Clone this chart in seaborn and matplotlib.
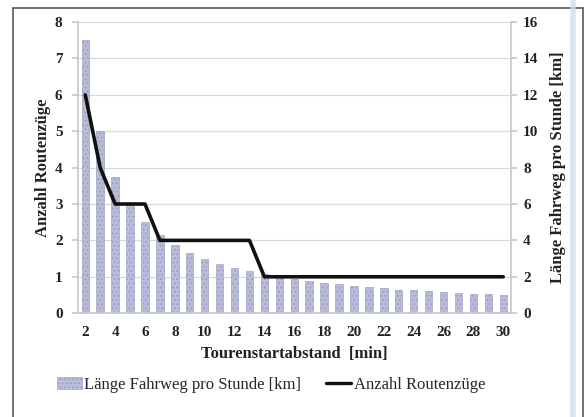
import numpy as np
import pandas as pd
import matplotlib
matplotlib.use("Agg")
import matplotlib.pyplot as plt
from matplotlib.lines import Line2D
from matplotlib.patches import Patch
import seaborn as sns

# Data
minutes = [2, 3, 4, 5, 6, 7, 8, 9, 10, 11, 12, 13, 14, 15, 16,
           17, 18, 19, 20, 21, 22, 23, 24, 25, 26, 27, 28, 29, 30]
km_per_hour = [15.0, 10.0, 7.5, 6.0, 5.0, 4.29, 3.75, 3.33, 3.0, 2.73, 2.5, 2.31, 2.14, 2.0, 1.88,
               1.76, 1.67, 1.58, 1.5, 1.43, 1.36, 1.3, 1.25, 1.2, 1.15, 1.11, 1.07, 1.03, 1.0]
route_trains = [6, 4, 3, 3, 3, 2, 2, 2, 2, 2, 2, 2, 1, 1, 1,
                1, 1, 1, 1, 1, 1, 1, 1, 1, 1, 1, 1, 1, 1]
x_ticks = list(range(2, 31, 2))

bar_label = "Länge Fahrweg pro Stunde [km]"
line_label = "Anzahl Routenzüge"

df = pd.DataFrame({"min": minutes, "km": km_per_hour, "n": route_trains})

sns.set_theme(style="white")
plt.rcParams["font.family"] = ["Liberation Serif", "DejaVu Serif"]
plt.rcParams["hatch.color"] = "#8d90b4"
plt.rcParams["hatch.linewidth"] = 0.6

fig = plt.figure(figsize=(5.85, 4.17), dpi=100)
ax = fig.add_axes([0.133, 0.249, 0.74, 0.698])  # bars, right-hand km scale
ax2 = ax.twinx()                                  # line, left-hand count scale

bar_face = "#b9bcd8"
sns.barplot(data=df, x="min", y="km", native_scale=True, width=0.5,
            color=bar_face, saturation=1, ax=ax, zorder=2)
for p in ax.patches:
    p.set_hatch("....")
    p.set_edgecolor("#9598bb")
    p.set_linewidth(0.4)

sns.lineplot(data=df, x="min", y="n", color="#111111", linewidth=2.6, ax=ax2)

# Axis layout: km on the right, count on the left
ax.yaxis.tick_right()
ax.yaxis.set_label_position("right")
ax2.yaxis.tick_left()
ax2.yaxis.set_label_position("left")

ax.set_xlim(1.5, 30.5)
ax.set_ylim(0, 16)
ax2.set_ylim(0, 8)
ax.set_yticks(range(0, 17, 2))
ax2.set_yticks(range(0, 9))
ax.set_xticks(x_ticks)
ax.set_xticks(np.arange(1.5, 31, 1), minor=True)

grid_c = "#d9d9d9"
ax.grid(axis="y", color=grid_c, linewidth=0.9, zorder=0)
ax.set_axisbelow(True)
ax2.grid(False)

for a in (ax, ax2):
    for s in a.spines.values():
        s.set_visible(False)
ax2.spines["left"].set_visible(True)
ax2.spines["left"].set_color("#c8c8d0")
ax2.spines["right"].set_visible(True)
ax2.spines["right"].set_color("#c8c8d0")
ax.spines["bottom"].set_visible(True)
ax.spines["bottom"].set_color("#c8c8d0")

ax.tick_params(axis="x", which="both", direction="out", length=3, color="#c8c8d0",
               labelsize=11, labelcolor="#222222", pad=9)
ax.tick_params(axis="x", which="major", length=0)
ax.tick_params(axis="y", right=True, direction="out", length=4, color="#c8c8d0",
               labelsize=11, labelcolor="#222222", pad=5)
ax2.tick_params(axis="y", left=True, direction="out", length=4, color="#c8c8d0",
                labelsize=11, labelcolor="#222222", pad=7)
for lbl in ax.get_xticklabels() + ax.get_yticklabels() + ax2.get_yticklabels():
    lbl.set_fontweight("bold")

ax.set_xlabel("Tourenstartabstand  [min]", fontsize=12, fontweight="bold",
              color="#222222", labelpad=5)
ax.set_ylabel(bar_label, fontsize=12, fontweight="bold", color="#222222", labelpad=8)
ax2.set_ylabel(line_label, fontsize=12, fontweight="bold", color="#222222", labelpad=3)

handles = [Patch(facecolor=bar_face, edgecolor="#9598bb", hatch="....", linewidth=0.4),
           Line2D([0], [0], color="#111111", linewidth=2.4)]
fig.legend(handles, [bar_label, line_label], loc="center", bbox_to_anchor=(0.463, 0.077),
           ncol=2, frameon=False, fontsize=12, handlelength=1.5, handletextpad=0.15,
           columnspacing=1.5)

# Outer frame
frame_c = "#5a5a5a"
fig.add_artist(Line2D([13 / 585, 13 / 585], [0, 1 - 8 / 417], color=frame_c, lw=1.2))
fig.add_artist(Line2D([13 / 585, 583 / 585], [1 - 8 / 417, 1 - 8 / 417], color=frame_c, lw=1.2))
fig.add_artist(Line2D([583 / 585, 583 / 585], [0, 1 - 8 / 417], color=frame_c, lw=1.2))
fig.add_artist(Line2D([573 / 585, 573 / 585], [0, 1], color="#cfe0f2", lw=4, alpha=0.8))

fig.savefig("out.png", dpi=100, facecolor="white")
